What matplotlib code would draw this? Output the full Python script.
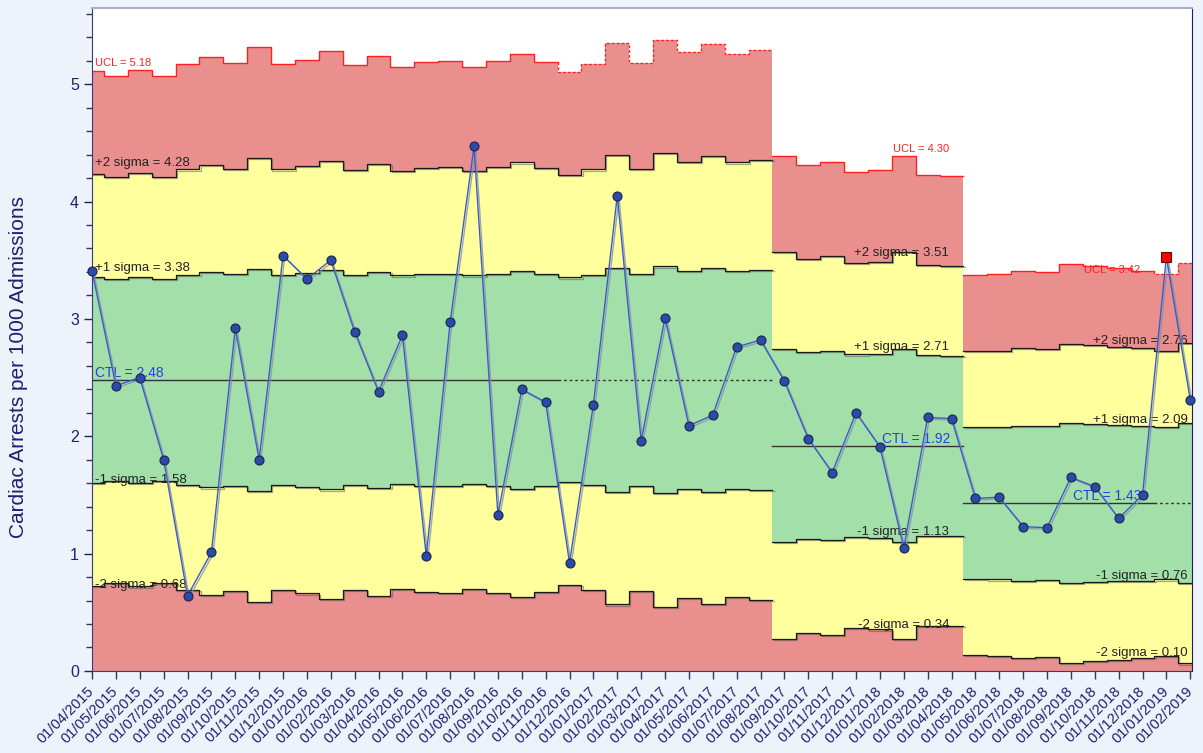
import matplotlib.pyplot as plt
import matplotlib.patheffects as pe
import numpy as np
from matplotlib.ticker import MultipleLocator

plt.rcParams['font.family'] = ['Liberation Sans', 'DejaVu Sans']

# monthly periods
dates = ['01/04/2015', '01/05/2015', '01/06/2015', '01/07/2015', '01/08/2015', '01/09/2015',
         '01/10/2015', '01/11/2015', '01/12/2015', '01/01/2016', '01/02/2016', '01/03/2016',
         '01/04/2016', '01/05/2016', '01/06/2016', '01/07/2016', '01/08/2016', '01/09/2016',
         '01/10/2016', '01/11/2016', '01/12/2016', '01/01/2017', '01/02/2017', '01/03/2017',
         '01/04/2017', '01/05/2017', '01/06/2017', '01/07/2017', '01/08/2017', '01/09/2017',
         '01/10/2017', '01/11/2017', '01/12/2017', '01/01/2018', '01/02/2018', '01/03/2018',
         '01/04/2018', '01/05/2018', '01/06/2018', '01/07/2018', '01/08/2018', '01/09/2018',
         '01/10/2018', '01/11/2018', '01/12/2018', '01/01/2019', '01/02/2019']

# cardiac arrests per 1000 admissions
rate = [3.41, 2.43, 2.50, 1.80, 0.64, 1.01, 2.92, 1.80, 3.54, 3.34, 3.50, 2.89, 2.38, 2.86,
        0.98, 2.97, 4.47, 1.33, 2.40, 2.29, 0.92, 2.27, 4.05, 1.96, 3.01, 2.09, 2.18, 2.76,
        2.82, 2.47, 1.98, 1.69, 2.20, 1.91, 1.05, 2.16, 2.15, 1.47, 1.48, 1.23, 1.22, 1.65,
        1.57, 1.30, 1.50, 3.53, 2.31]

# upper control limit for each month (u-chart, varies with admissions)
ucl = [5.11, 5.07, 5.12, 5.07, 5.17, 5.23, 5.18, 5.32, 5.17, 5.21, 5.28, 5.16, 5.24, 5.15,
       5.19, 5.20, 5.15, 5.20, 5.26, 5.19, 5.10, 5.17, 5.35, 5.18, 5.38, 5.27, 5.34, 5.26,
       5.29,
       4.39, 4.31, 4.34, 4.25, 4.27, 4.39, 4.23, 4.22,
       3.37, 3.38, 3.41, 3.40, 3.47, 3.45, 3.43, 3.41, 3.38, 3.48]

# phases: first month, last month, last month of the baseline, centre line
phase_first = [0, 29, 37]
phase_last = [28, 36, 46]
baseline_last = [19, 36, 44]
ctl = [2.48, 1.92, 1.43]

# values printed on the chart
label_ucl = [5.18, 4.30, 3.42]
label_p2 = [4.28, 3.51, 2.76]
label_p1 = [3.38, 2.71, 2.09]
label_m1 = [1.58, 1.13, 0.76]
label_m2 = [0.68, 0.34, 0.10]

signals = [45]

RED = '#E98F8E'
YEL = '#FFFF9E'
GRN = '#A3E0A9'
NAVY = '#1F2070'

rate = np.array(rate)
ucl = np.array(ucl)

fig = plt.figure(figsize=(12.03, 7.53), dpi=100, facecolor='#EEF2FB')
ax = fig.add_axes([0.0765, 0.109, 0.9145, 0.8805])
ax.set_facecolor('white')

shadow = [pe.SimpleLineShadow(offset=(0.8, -0.8), shadow_color='#555555', alpha=0.5), pe.Normal()]


def stepped(vals, a, b):
    x = np.arange(a - 0.5, b + 1.5)
    y = np.append(vals, vals[-1])
    return x, y


for k in range(3):
    a, b, c = phase_first[k], phase_last[k], ctl[k]
    u = ucl[a:b + 1]
    s = (u - c) / 3
    lev = {
        'u3': u, 'u2': c + 2 * s, 'u1': c + s,
        'l1': c - s, 'l2': c - 2 * s, 'l3': np.maximum(c - 3 * s, 0)
    }
    ex = {}
    for key, v in lev.items():
        ex[key] = stepped(v, a, b)
    x = ex['u3'][0]
    ax.fill_between(x, ex['u2'][1], ex['u3'][1], step='post', color=RED, lw=0, zorder=1)
    ax.fill_between(x, ex['u1'][1], ex['u2'][1], step='post', color=YEL, lw=0, zorder=1)
    ax.fill_between(x, ex['l1'][1], ex['u1'][1], step='post', color=GRN, lw=0, zorder=1)
    ax.fill_between(x, ex['l2'][1], ex['l1'][1], step='post', color=YEL, lw=0, zorder=1)
    ax.fill_between(x, ex['l3'][1], ex['l2'][1], step='post', color=RED, lw=0, zorder=1)

    for key in ['u2', 'u1', 'l1', 'l2']:
        ax.step(ex[key][0], ex[key][1], where='post', color='#1A1A1A', lw=0.9, zorder=2,
                path_effects=shadow)

    # UCL: solid over the baseline, dashed over the extension
    e = baseline_last[k]
    xb, yb = stepped(u[:e - a + 1], a, e)
    ax.step(xb, yb, where='post', color='#FF2020', lw=1.0, zorder=2)
    ax.plot([a - 0.5, e + 0.5], [c, c], color='#333333', lw=1.0, zorder=2)
    if e < b:
        xe, ye = stepped(u[e - a + 1:], e + 1, b)
        xe = np.insert(xe, 0, xe[0])
        ye = np.insert(ye, 0, yb[-1])
        ax.step(xe, ye, where='post', color='#FF2020', lw=1.0, ls=(0, (2, 1.5)), zorder=2)
        ax.plot([e + 0.5, b + 0.5], [c, c], color='#333333', lw=1.0, ls=(0, (2, 2)), zorder=2)

# phase labels
lab_kw = dict(fontsize=9.5, color='#222222', zorder=3)
ax.text(0.12, label_ucl[0], f'UCL = {label_ucl[0]:.2f}', color='#FF2020', fontsize=8,
        va='center', ha='left', zorder=3)
ax.text(0.12, label_p2[0], f'+2 sigma = {label_p2[0]:.2f}', va='bottom', ha='left', **lab_kw)
ax.text(0.12, label_p1[0], f'+1 sigma = {label_p1[0]:.2f}', va='bottom', ha='left', **lab_kw)
ax.text(0.12, ctl[0], f'CTL = {ctl[0]:.2f}', color='#2B3FE0', fontsize=10, va='bottom',
        ha='left', zorder=3)
ax.text(0.12, label_m1[0], f'-1 sigma = {label_m1[0]:.2f}', va='bottom', ha='left', **lab_kw)
ax.text(0.12, label_m2[0], f'-2 sigma = {label_m2[0]:.2f}', va='bottom', ha='left', **lab_kw)

ax.text(35.9, label_ucl[1] + 0.15, f'UCL = {label_ucl[1]:.2f}', color='#FF2020', fontsize=8,
        va='center', ha='right', zorder=3)
ax.text(35.9, label_p2[1], f'+2 sigma = {label_p2[1]:.2f}', va='bottom', ha='right', **lab_kw)
ax.text(35.9, label_p1[1], f'+1 sigma = {label_p1[1]:.2f}', va='bottom', ha='right', **lab_kw)
ax.text(35.95, ctl[1], f'CTL = {ctl[1]:.2f}', color='#2B3FE0', fontsize=10, va='bottom',
        ha='right', zorder=3)
ax.text(35.9, label_m1[1], f'-1 sigma = {label_m1[1]:.2f}', va='bottom', ha='right', **lab_kw)
ax.text(35.9, label_m2[1], f'-2 sigma = {label_m2[1]:.2f}', va='bottom', ha='right', **lab_kw)

ax.text(43.9, label_ucl[2], f'UCL = {label_ucl[2]:.2f}', color='#FF2020', fontsize=8,
        va='center', ha='right', zorder=3)
ax.text(45.9, label_p2[2], f'+2 sigma = {label_p2[2]:.2f}', va='bottom', ha='right', **lab_kw)
ax.text(45.9, label_p1[2], f'+1 sigma = {label_p1[2]:.2f}', va='bottom', ha='right', **lab_kw)
ax.text(43.95, ctl[2], f'CTL = {ctl[2]:.2f}', color='#2B3FE0', fontsize=10, va='bottom',
        ha='right', zorder=3)
ax.text(45.9, label_m1[2], f'-1 sigma = {label_m1[2]:.2f}', va='bottom', ha='right', **lab_kw)
ax.text(45.9, label_m2[2], f'-2 sigma = {label_m2[2]:.2f}', va='bottom', ha='right', **lab_kw)

# data series
xs = np.arange(len(rate))
ax.plot(xs, rate, color='#3B5CC8', lw=1.0, zorder=4,
        path_effects=[pe.SimpleLineShadow(offset=(1.2, -1.2), shadow_color='#8890A8', alpha=0.8),
                      pe.Normal()])
normal = [i for i in xs if i not in signals]
ax.plot(xs[normal], rate[normal], 'o', ms=6.5, mfc='#2C4BA6', mec='#1A2450', mew=0.8,
        zorder=5, clip_on=False)
ax.plot(xs[signals], rate[signals], 's', ms=7, mfc='#FF0000', mec='#551111', mew=0.8,
        zorder=5, clip_on=False)

ax.set_xlim(0, 46.08)
ax.set_ylim(0, 5.65)
ax.set_xticks(xs)
ax.set_xticklabels(dates, rotation=45, ha='right', va='center', rotation_mode='anchor',
                   fontsize=10.5, color=NAVY)
ax.yaxis.set_major_locator(MultipleLocator(1))
ax.yaxis.set_minor_locator(MultipleLocator(0.2))
ax.tick_params(axis='y', which='major', labelsize=11.5, colors=NAVY, length=6, width=1)
ax.tick_params(axis='y', which='minor', length=4, width=1, color='#333366')
ax.tick_params(axis='x', length=6, width=1, color='#333366', pad=7)
ax.set_ylabel('Cardiac Arrests per 1000 Admissions', fontsize=15, color=NAVY)
ax.yaxis.set_label_coords(-0.058, 0.4585)

for side in ['left', 'bottom']:
    ax.spines[side].set_color('#3A3A7A')
ax.spines['right'].set_color('#1C1C6C')
ax.spines['top'].set_color('#A9AFC8')
ax.spines['top'].set_linewidth(1.5)

fig.savefig('out.png', dpi=100, facecolor=fig.get_facecolor())
